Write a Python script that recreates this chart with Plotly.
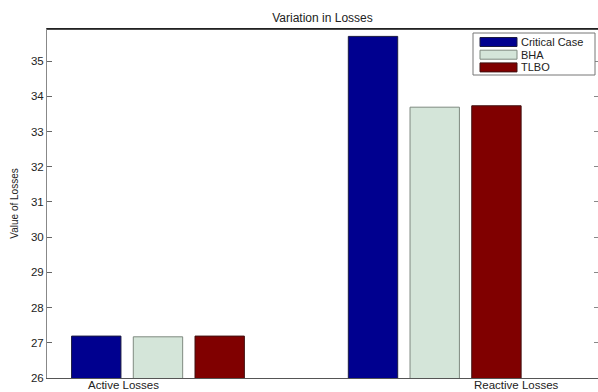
import plotly.graph_objects as go

# Loss values per case (group 1 = active, group 2 = reactive)
groups = [1, 2]
series_names = ["Critical Case", "BHA", "TLBO"]
critical_case = [27.19, 35.70]
bha = [27.17, 33.69]
tlbo = [27.19, 33.73]
series_values = [critical_case, bha, tlbo]
series_colors = ["#00008F", "#D4E5D9", "#800000"]
edge_colors = ["#1a1a40", "#7f8a80", "#401010"]

# category label positions and text
label_pos = [0.877, 2.294]
label_text = ["Active Losses", "Reactive Losses"]
y_ticks = [26, 27, 28, 29, 30, 31, 32, 33, 34, 35]

W, H = 598, 392
ML, MR, MT, MB = 47, 0, 29, 14

fig = go.Figure()
for name, vals, col, ec in zip(series_names, series_values, series_colors, edge_colors):
    fig.add_trace(go.Bar(
        x=groups, y=vals, name=name, showlegend=False,
        marker=dict(color=col, line=dict(color=ec, width=1)),
    ))

# invisible trace carrying the right-hand tick marks
fig.add_trace(go.Scatter(x=[1], y=[26], yaxis="y2", mode="markers",
                         marker=dict(opacity=0), showlegend=False, hoverinfo="skip"))

font = dict(family="Liberation Sans, Arial, sans-serif", color="#222", size=12)
yr = [26, 35.91]

fig.update_layout(
    width=W, height=H,
    margin=dict(l=ML, r=MR, t=MT, b=MB, autoexpand=False),
    paper_bgcolor="white", plot_bgcolor="white",
    barmode="group", bargap=0.331, bargroupgap=0.2,
    font=font,
    title=dict(text="Variation in Losses", x=0.5, xref="paper",
               y=1 - 18 / H, yanchor="middle", font=dict(size=12, color="#222")),
    xaxis=dict(range=[0.599, 2.590], showticklabels=False,
               ticks="", showgrid=False, zeroline=False, automargin=False,
               showline=True, linecolor="#555", linewidth=1, mirror=True),
    yaxis=dict(range=yr, tickvals=y_ticks, ticks="inside", ticklen=5,
               tickcolor="#666", showgrid=False, zeroline=False, automargin=False,
               showline=True, linecolor="#888", linewidth=1,
               title=dict(text="Value of Losses", standoff=10, font=dict(size=10)),
               tickfont=dict(size=11.5)),
    yaxis2=dict(range=yr, tickvals=y_ticks, ticks="inside", ticklen=4,
                tickcolor="#888", overlaying="y", side="right", automargin=False,
                showticklabels=False, showgrid=False, zeroline=False, showline=False),
)

# top border slightly heavier
fig.add_shape(type="line", xref="paper", yref="paper", x0=0, x1=1, y0=1, y1=1,
              line=dict(color="#111", width=1.5))

pw, ph = W - ML - MR, H - MT - MB
def px_x(p):
    return (p - ML) / pw
def px_y(p):
    return (H - MB - p) / ph

# category labels under the axis, kept inside the page
for pos, txt in zip(label_pos, label_text):
    fig.add_annotation(xref="x", yref="paper", x=pos, y=px_y(392),
                       text=txt, showarrow=False, xanchor="center", yanchor="bottom",
                       borderpad=0, font=dict(size=11.5, color="#222"))

# legend box in the upper right corner
fig.add_shape(type="rect", xref="paper", yref="paper",
              x0=px_x(473), x1=px_x(595), y0=px_y(75), y1=px_y(33),
              line=dict(color="#777", width=1), fillcolor="white")
for i, (name, col, ec) in enumerate(zip(series_names, series_colors, edge_colors)):
    yc = 42 + i * 12.7
    fig.add_shape(type="rect", xref="paper", yref="paper",
                  x0=px_x(480), x1=px_x(517), y0=px_y(yc + 4.5), y1=px_y(yc - 4.5),
                  line=dict(color=ec, width=1), fillcolor=col)
    fig.add_annotation(xref="paper", yref="paper", x=px_x(520), y=px_y(yc),
                       text=name, showarrow=False, xanchor="left", yanchor="middle",
                       borderpad=0, font=dict(size=11, color="#222"))

fig.write_html("out.html")
